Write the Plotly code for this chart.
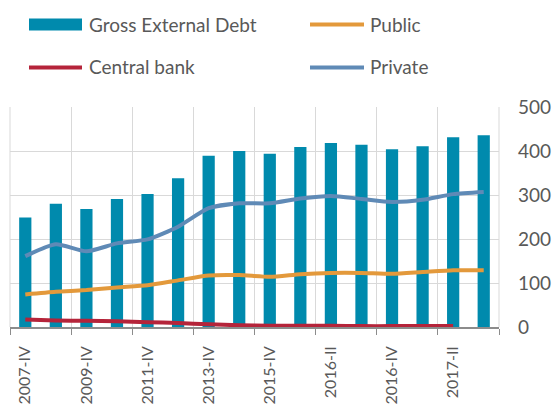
import plotly.graph_objects as go

categories = ["2007-IV", "2008-IV", "2009-IV", "2010-IV", "2011-IV", "2012-IV",
              "2013-IV", "2014-IV", "2015-IV", "2016-I", "2016-II", "2016-III",
              "2016-IV", "2017-I", "2017-II", "2017-III"]
tick_labels = ["2007-IV", "2009-IV", "2011-IV", "2013-IV", "2015-IV", "2016-II", "2016-IV", "2017-II"]
gross_debt = [249, 280, 268, 291, 302, 338, 389, 400, 394, 409, 418, 414, 404, 411, 431, 436]
public = [74, 80, 84, 90, 95, 106, 117, 118, 114, 120, 123, 123, 121, 125, 129, 129]
central_bank = [17, 15, 14, 13, 11, 9, 6, 4, 3, 3, 3, 2, 2, 2, 2]
private = [161, 188, 172, 190, 199, 228, 270, 281, 281, 292, 298, 291, 284, 289, 302, 307]

FONT = "Lato"
GREY = "#595959"
C_BAR = "#008AAD"
C_PUB = "#E3993B"
C_CB = "#B5243A"
C_PRIV = "#5F8AB6"
C_GRID = "#D9D9D9"

W, H = 552, 408
L, R, T, B = 10, 53, 107, 81
pw, ph = W - L - R, H - T - B

def px(x):
    return (x - L) / pw

def py(y):
    return (H - B - y) / ph

x_idx = list(range(len(categories)))
x_lo, x_hi = -0.5, len(categories) - 0.5

fig = go.Figure()
fig.add_trace(go.Bar(x=x_idx, y=gross_debt, name="Gross External Debt",
                     marker=dict(color=C_BAR, line=dict(width=0)), width=0.4))
fig.add_trace(go.Scatter(x=x_idx, y=private, name="Private", mode="lines",
                         line=dict(color=C_PRIV, width=4, shape="spline", smoothing=0.6)))
fig.add_trace(go.Scatter(x=x_idx, y=public, name="Public", mode="lines",
                         line=dict(color=C_PUB, width=4, shape="spline", smoothing=0.6)))
fig.add_trace(go.Scatter(x=x_idx[:len(central_bank)], y=central_bank, name="Central bank", mode="lines",
                         line=dict(color=C_CB, width=4, shape="spline", smoothing=0.6)))

# edge gridlines of the plot area
shapes = [
    dict(type="line", xref="paper", yref="paper", x0=0, x1=0, y0=0, y1=1,
         line=dict(color=C_GRID, width=1), layer="below"),
    dict(type="line", xref="paper", yref="paper", x0=1, x1=1, y0=0, y1=1,
         line=dict(color=C_GRID, width=1), layer="below"),
]
# manual legend
shapes += [
    dict(type="rect", xref="paper", yref="paper", x0=px(29), x1=px(82), y0=py(30.5), y1=py(18.5),
         fillcolor=C_BAR, line=dict(width=0)),
    dict(type="line", xref="paper", yref="paper", x0=px(29), x1=px(82), y0=py(67.6), y1=py(67.6),
         line=dict(color=C_CB, width=4)),
    dict(type="line", xref="paper", yref="paper", x0=px(310), x1=px(364), y0=py(24.5), y1=py(24.5),
         line=dict(color=C_PUB, width=4)),
    dict(type="line", xref="paper", yref="paper", x0=px(310), x1=px(364), y0=py(67.6), y1=py(67.6),
         line=dict(color=C_PRIV, width=4)),
]
annotations = []
for text, x, y in [("Gross External Debt", 87, 24), ("Central bank", 87, 67),
                   ("Public", 368, 24), ("Private", 368, 67)]:
    annotations.append(dict(text=text, xref="paper", yref="paper", x=px(x), y=py(y),
                            xanchor="left", yanchor="middle", showarrow=False,
                            font=dict(family=FONT, size=19, color=GREY)))

fig.update_layout(
    width=W, height=H,
    margin=dict(l=L, r=R, t=T, b=B, pad=0),
    paper_bgcolor="white", plot_bgcolor="white",
    showlegend=False,
    shapes=shapes, annotations=annotations,
    font=dict(family=FONT, color=GREY, size=18),
    xaxis=dict(range=[x_lo, x_hi], tickmode="array", automargin=False,
               tickvals=x_idx[::2], ticktext=tick_labels, tickangle=-90,
               ticks="", showgrid=False, zeroline=False,
               showline=True, linecolor="#8C8C8C", linewidth=1.5,
               tickfont=dict(family=FONT, size=16, color=GREY),
               ticklabelstandoff=11,
               minor=dict(tickmode="linear", tick0=x_lo, dtick=2, ticks="outside", ticklen=6,
                          tickcolor="#8C8C8C", showgrid=True, gridcolor=C_GRID, gridwidth=1)),
    yaxis=dict(range=[0, 500], dtick=100, side="right", showgrid=True, gridcolor=C_GRID,
               gridwidth=1, zeroline=False, showline=False, ticks="", automargin=False,
               tickfont=dict(family=FONT, size=19, color=GREY), ticklabelstandoff=18),
)

fig.write_html("out.html")
